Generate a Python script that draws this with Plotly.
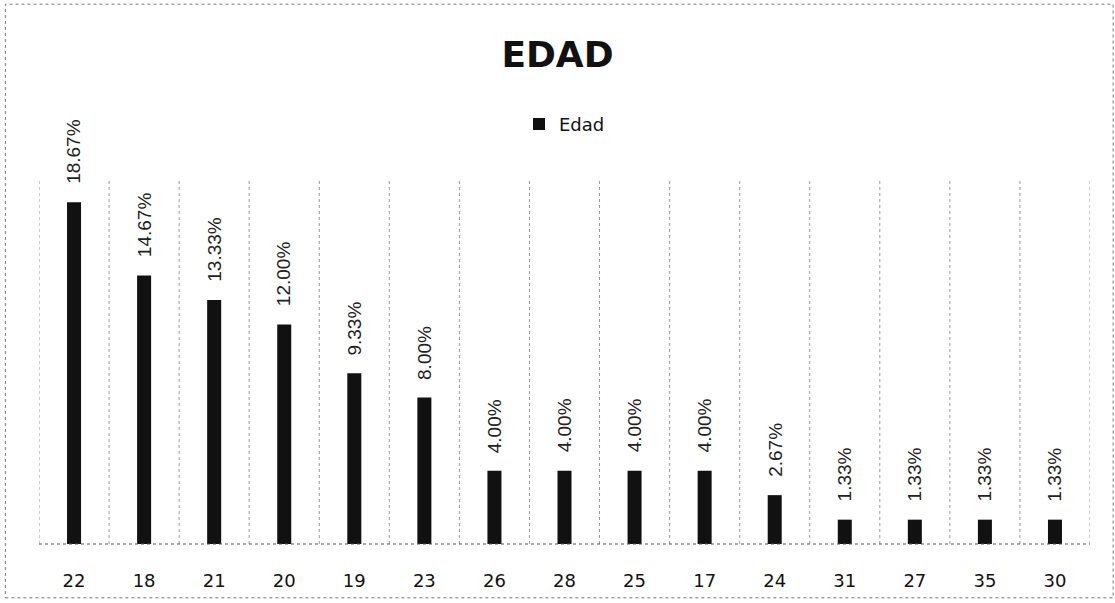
import plotly.graph_objects as go

categories = ["22", "18", "21", "20", "19", "23", "26", "28", "25", "17", "24", "31", "27", "35", "30"]
values = [0.1867, 0.1467, 0.1333, 0.1200, 0.0933, 0.0800, 0.0400, 0.0400, 0.0400, 0.0400, 0.0267, 0.0133, 0.0133, 0.0133, 0.0133]
series_name = "Edad"
title_text = "EDAD"

fig = go.Figure()
fig.add_trace(go.Bar(
    x=categories, y=values, name=series_name,
    marker=dict(color="#111111", line=dict(width=0)),
    showlegend=True,
))

annotations = []
for i, v in enumerate(values):
    annotations.append(dict(
        x=i, y=v, xref="x", yref="y", text=f"{v*100:.2f}%",
        textangle=-90, showarrow=False, xanchor="center", yanchor="bottom",
        yshift=16, font=dict(family="Liberation Sans", size=19, color="#222222"),
    ))

shapes = []
n = len(categories)
for i in range(n + 1):
    shapes.append(dict(type="line", xref="x", yref="paper", x0=i - 0.5, x1=i - 0.5, y0=0, y1=1,
                       line=dict(color="#999999", width=1, dash="dot"), layer="below"))
shapes.append(dict(type="line", xref="paper", yref="paper", x0=0, x1=1, y0=0, y1=0,
                   line=dict(color="#555555", width=1.2, dash="dot")))
shapes.append(dict(type="rect", xref="paper", yref="paper", x0=-0.032, x1=1.022, y0=-0.147, y1=1.475,
                   line=dict(color="#777777", width=1, dash="dot")))

fig.update_layout(
    width=1115, height=603,
    margin=dict(l=39, r=25, t=178, b=57),
    paper_bgcolor="white", plot_bgcolor="white",
    bargap=0.8,
    title=dict(text=f"<b>{title_text}</b>", x=0.5, xanchor="center", y=0.909, yanchor="middle",
               font=dict(family="DejaVu Sans", size=36, color="#111111")),
    legend=dict(orientation="h", x=0.5, xanchor="center", y=1.147, yanchor="middle",
                font=dict(family="DejaVu Sans", size=18, color="#111111"), itemwidth=30),
    xaxis=dict(type="category", showgrid=False, showline=False, ticks="outside", ticklen=20,
               tickcolor="rgba(0,0,0,0)", range=[-0.5, n - 0.5],
               tickfont=dict(family="DejaVu Sans", size=18, color="#111111")),
    yaxis=dict(range=[0, 0.20], showgrid=False, showticklabels=False, zeroline=False, showline=False),
    annotations=annotations,
    shapes=shapes,
)

fig.write_html("out.html", config={"displayModeBar": False},
               post_script="document.body.style.margin='0';document.body.style.padding='0';")
